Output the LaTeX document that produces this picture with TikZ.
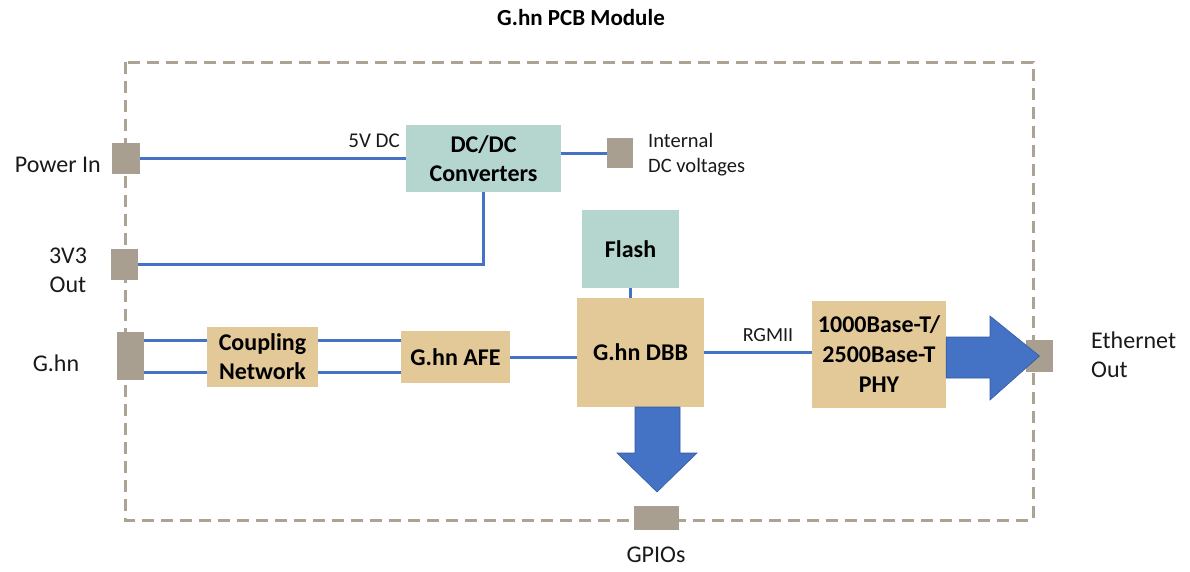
\documentclass[tikz,border=0pt]{standalone}
\usepackage{fontspec}
\setmainfont{Carlito}
\usetikzlibrary{calc}
\definecolor{tanbox}{RGB}{227,201,152}
\definecolor{tealbox}{RGB}{180,214,207}
\definecolor{portc}{RGB}{168,159,144}
\definecolor{wire}{RGB}{68,114,196}
\definecolor{framec}{RGB}{172,163,148}
\begin{document}
\begin{tikzpicture}[x=1pt,y=-1pt,
  font=\fontsize{22}{26}\selectfont,
  blk/.style={inner sep=0pt,align=center,font=\fontsize{24}{29}\selectfont\bfseries,text=black},
  tanblk/.style={blk,fill=tanbox},
  tealblk/.style={blk,fill=tealbox},
  port/.style={fill=portc,inner sep=0pt},
  wireline/.style={draw=wire,line width=3pt},
  lbl/.style={inner sep=0pt,font=\fontsize{24}{29}\selectfont,text=black!90},
  small/.style={inner sep=0pt,font=\fontsize{20.5}{25}\selectfont,text=black!90},
  bigarrow/.style={fill=wire,draw=wire!80!black,line width=0.6pt}]
\useasboundingbox (0,0) rectangle (1190,571);
% frame
\draw[framec,line width=3pt,dash pattern=on 12pt off 7pt] (125,62) rectangle (1033,520);
\node[blk,font=\fontsize{23}{27}\selectfont\bfseries] (title) at (581,18) {G.hn PCB Module};
% ports
\node[port,minimum width=28pt,minimum height=31pt] (pin) at (126,158.5) {};
\node[port,minimum width=27pt,minimum height=31pt] (p33) at (124.5,264.5) {};
\node[port,minimum width=27pt,minimum height=48pt] (pg) at (130.5,356) {};
\node[port,minimum width=26pt,minimum height=30pt] (pint) at (620,153) {};
\node[port,minimum width=27pt,minimum height=32pt] (peth) at (1039.5,356) {};
\node[port,minimum width=45pt,minimum height=24pt] (pgpio) at (656.5,518) {};
% blocks
\node[tealblk,minimum width=155pt,minimum height=67pt] (dcdc) at (483.5,158.5) {DC/DC\\Converters};
\node[tealblk,minimum width=97pt,minimum height=78pt] (flash) at (630.5,249) {Flash};
\node[tanblk,minimum width=111pt,minimum height=60pt] (coup) at (262.5,357) {Coupling\\Network};
\node[tanblk,minimum width=109pt,minimum height=52pt] (afe) at (455.5,357) {G.hn AFE};
\node[tanblk,minimum width=127pt,minimum height=109pt] (dbb) at (640.5,352.5) {G.hn DBB};
\node[tanblk,minimum width=134pt,minimum height=107pt,font=\fontsize{24}{30}\selectfont\bfseries] (phy) at (879,354.5) {1000Base-T/\\2500Base-T\\PHY};
% labels
\node[lbl,anchor=east] (lpin) at (101,165) {Power In};
\node[lbl,align=center] (l33) at (68,270) {3V3\\Out};
\node[lbl] (lg) at (56,363) {G.hn};
\node[lbl,align=left,anchor=west] (leth) at (1091,355) {Ethernet\\Out};
\node[lbl] (lgpio) at (656,555) {GPIOs};
\node[small,anchor=south east,font=\fontsize{21}{25}\selectfont] (l5v) at (400,148) {5V DC};
\node[small,align=left,anchor=west] (lint) at (648,155) {Internal\\DC voltages};
\node[small,font=\fontsize{20}{24}\selectfont] (lrg) at (768,335) {RGMII};
% wires
\draw[wireline] (pin.east) -- (dcdc.west);
\draw[wireline] (dcdc.east |- pint.west) -- (pint.west);
\draw[wireline] (dcdc.south) |- (p33.east);
\draw[wireline] (flash.south) -- (flash.south |- dbb.north);
\draw[wireline] ($(pg.east)+(0,-16)$) -- ($(coup.west)+(0,-17)$);
\draw[wireline] ($(pg.east)+(0,16)$) -- ($(coup.west)+(0,15)$);
\draw[wireline] ($(coup.east)+(0,-17)$) -- ($(afe.west)+(0,-17)$);
\draw[wireline] ($(coup.east)+(0,15)$) -- ($(afe.west)+(0,15)$);
\draw[wireline] (afe.east) -- (afe.east -| dbb.west);
\draw[wireline] (dbb.east) -- (dbb.east -| phy.west);
% big arrows
\draw[bigarrow] (phy.east |- 0,337) -- (990,337) -- (990,316) -- (peth.center) -- (990,400) -- (990,378) -- (phy.east |- 0,378) -- cycle;
\draw[bigarrow] (635,407) -- (635,453) -- (617,453) -- (657,492) -- (697,453) -- (680,453) -- (680,407) -- cycle;
\end{tikzpicture}
\end{document}
